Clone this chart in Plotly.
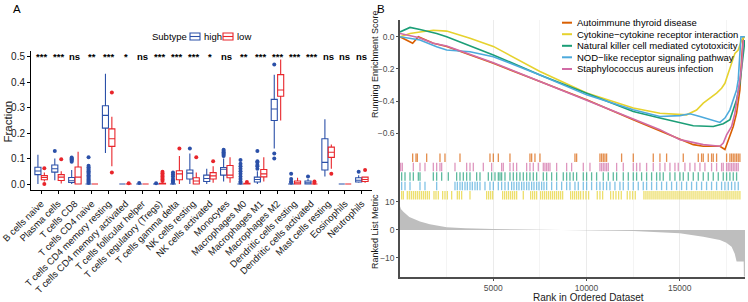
import plotly.graph_objects as go

W, H = 748, 302
FONT = "Liberation Sans"

# ---------------- Panel A data ----------------
cells = ["B cells naive", "Plasma cells", "T cells CD8", "T cells CD4 naive",
         "T cells CD4 memory resting", "T cells CD4 memory activated",
         "T cells follicular helper", "T cells regulatory (Tregs)", "T cells gamma delta",
         "NK cells resting", "NK cells activated", "Monocytes", "Macrophages M0",
         "Macrophages M1", "Macrophages M2", "Dendritic cells resting",
         "Dendritic cells activated", "Mast cells resting", "Eosinophils", "Neutrophils"]
sig = ["***", "***", "ns", "**", "***", "*", "ns", "***", "***", "***", "*", "ns", "**",
       "***", "***", "***", "***", "ns", "ns", "ns"]

high_lo = [0.0, 0.015, 0.0, 0.0, 0.122, 0.0, 0.0, 0.0, 0.0, 0.0, 0.0, 0.01, 0.0, 0.0, 0.14, 0.0, 0.0, 0.03, 0.0, 0.005]
high_q1 = [0.037, 0.047, 0.006, 0.0, 0.22, 0.0, 0.0, 0.0, 0.0, 0.02, 0.01, 0.035, 0.0, 0.008, 0.25, 0.0, 0.0, 0.055, 0.0, 0.008]
high_med = [0.051, 0.06, 0.013, 0.0, 0.27, 0.0, 0.0, 0.0, 0.0, 0.043, 0.022, 0.058, 0.0, 0.018, 0.295, 0.0, 0.005, 0.085, 0.0, 0.015]
high_q3 = [0.066, 0.075, 0.026, 0.0, 0.308, 0.0, 0.0, 0.0, 0.0, 0.055, 0.035, 0.065, 0.0, 0.027, 0.333, 0.0, 0.012, 0.178, 0.0, 0.025]
high_hi = [0.115, 0.10, 0.055, 0.0, 0.434, 0.0, 0.0, 0.0, 0.0, 0.12, 0.06, 0.10, 0.0, 0.05, 0.43, 0.0, 0.02, 0.255, 0.0, 0.035]
high_out = [[], [0.13], [0.088, 0.093, 0.097, 0.100, 0.104],
            [0.004, 0.008, 0.012, 0.016, 0.02, 0.025, 0.03, 0.035, 0.04, 0.045, 0.05, 0.055, 0.06, 0.066, 0.072, 0.105],
            [], [], [0.004], [0.003], [0.005, 0.01, 0.015, 0.02, 0.03, 0.038, 0.045],
            [0.14], [], [0.11, 0.115, 0.12, 0.125, 0.13, 0.135],
            [0.005, 0.01, 0.02, 0.03, 0.04, 0.05, 0.06, 0.07, 0.08, 0.095],
            [0.06, 0.07, 0.075, 0.085, 0.09, 0.13], [0.47, 0.12, 0.10],
            [0.005, 0.01, 0.02, 0.04], [0.03], [], [], [0.048]]

low_lo = [0.01, 0.002, 0.0, 0.0, 0.07, 0.0, 0.0, 0.0, 0.0, 0.0, 0.005, 0.005, 0.0, 0.01, 0.25, 0.0, 0.0, 0.06, 0.0, 0.005]
low_q1 = [0.017, 0.014, 0.0, 0.0, 0.148, 0.0, 0.0, 0.0, 0.017, 0.0, 0.02, 0.025, 0.0, 0.028, 0.345, 0.0, 0.0, 0.105, 0.0, 0.01]
low_med = [0.026, 0.027, 0.027, 0.0, 0.178, 0.0, 0.0, 0.0, 0.04, 0.012, 0.032, 0.035, 0.0, 0.04, 0.37, 0.005, 0.0, 0.125, 0.0, 0.018]
low_q3 = [0.033, 0.037, 0.067, 0.0, 0.217, 0.0, 0.0, 0.003, 0.052, 0.025, 0.045, 0.073, 0.003, 0.057, 0.43, 0.012, 0.0, 0.145, 0.0, 0.027]
low_hi = [0.045, 0.05, 0.127, 0.0, 0.265, 0.0, 0.0, 0.007, 0.11, 0.045, 0.07, 0.105, 0.005, 0.105, 0.49, 0.025, 0.0, 0.155, 0.0, 0.03]
low_out = [[0.062, 0.0], [0.097], [], [], [0.36, 0.045], [0.003], [],
           [0.012, 0.018, 0.024, 0.03, 0.036, 0.042, 0.048], [0.14], [0.105], [0.09], [],
           [0.008], [], [], [], [0.005, 0.01], [0.04], [], [0.055]]

groups = ["high", "low"]
group_colors = {"high": "#2B50A8", "low": "#E8252B"}

# ---------------- Panel B data ----------------
set_names = ["Autoimmune thyroid disease", "Cytokine\u2212cytokine receptor interaction",
             "Natural killer cell mediated cytotoxicity", "NOD\u2212like receptor signaling pathway",
             "Staphylococcus aureus infection"]
set_colors = ["#D95F02", "#E6D22E", "#1B9E77", "#4DAADC", "#D16BA5"]

es_auto_x = [0, 536, 679, 983, 1787, 2502, 5004, 7505, 10007, 12509, 13939, 15011, 15726, 16262, 17155, 17423, 17602, 17870, 18049, 18227, 18316, 18406]
es_auto_y = [0.0, -0.03, -0.04, 0.0, -0.04, -0.06, -0.165, -0.278, -0.392, -0.515, -0.586, -0.639, -0.67, -0.68, -0.68, -0.70, -0.639, -0.557, -0.474, -0.33, -0.144, 0.0]
es_cyto_x = [0, 536, 1072, 1787, 2502, 3753, 5004, 7505, 10007, 12509, 13939, 15011, 15368, 15904, 16262, 16619, 16977, 17245, 17423, 17602, 17781, 17959, 18138, 18316, 18495]
es_cyto_y = [0.0, 0.02, 0.03, 0.04, 0.035, -0.01, -0.06, -0.216, -0.35, -0.443, -0.475, -0.485, -0.485, -0.455, -0.412, -0.381, -0.35, -0.32, -0.289, -0.227, -0.165, -0.103, -0.082, -0.02, 0.0]
es_nk_x = [0, 536, 1072, 1966, 2502, 5004, 7505, 10007, 12509, 13939, 15011, 15726, 16798, 17334, 17691, 17870, 18049, 18227, 18316, 18495]
es_nk_y = [0.03, 0.058, 0.045, 0.02, 0.0, -0.113, -0.237, -0.35, -0.464, -0.505, -0.536, -0.553, -0.557, -0.54, -0.515, -0.454, -0.392, -0.289, -0.186, -0.02]
es_nod_x = [0, 536, 1072, 1966, 2502, 3753, 5004, 7505, 10007, 12509, 13939, 15011, 15547, 16083, 16798, 17155, 17423, 17691, 17870, 18049, 18138, 18227, 18281, 18495]
es_nod_y = [0.0, -0.01, -0.02, -0.062, -0.082, -0.093, -0.124, -0.237, -0.361, -0.454, -0.495, -0.49, -0.478, -0.495, -0.52, -0.532, -0.505, -0.454, -0.392, -0.33, -0.268, -0.124, 0.0, 0.0]
es_staph_x = [0, 983, 1787, 2502, 5004, 7505, 10007, 12509, 13939, 15011, 16262, 17155, 17334, 17513, 17781, 17959, 18138, 18227, 18316, 18406]
es_staph_y = [0.02, -0.005, -0.04, -0.058, -0.161, -0.278, -0.392, -0.511, -0.577, -0.639, -0.67, -0.68, -0.66, -0.61, -0.557, -0.474, -0.35, -0.268, -0.186, -0.02]

hits_auto = [679, 858, 929, 1430, 2144, 2412, 3217, 4825, 5004, 5272, 5897, 6969, 7059, 7237, 7505, 9382, 9471,
             10722, 10811, 10901, 10990, 11079, 11883, 12509, 13581, 13939, 14296, 15190, 15994, 16172, 16262,
             16530, 16708, 16798, 16977, 17513, 17691, 17781, 17870, 17959, 18049, 18138, 18227]
hits_staph = [36, 125, 715, 1072, 1340, 1787, 1966, 2144, 2234, 2949, 3574, 3753, 3931, 4468, 4914, 5450, 5540,
              5897, 6076, 6255, 6791, 6969, 7148, 7416, 7684, 7773, 7863, 7952, 8042, 8399, 8935, 9203, 9829,
              10186, 10722, 10811, 10901, 10990, 11079, 11169, 11616, 11973, 12509, 12688, 12866, 13224, 13581,
              13939, 14207, 14475, 14743, 14921, 15279, 15547, 15815, 16083, 16351, 16708, 16977, 17245, 17334,
              17513, 17602, 17691, 17781, 17870, 17959, 18049, 18138]
hits_nk = [89, 268, 536, 715, 983, 1072, 1787, 1966, 2234, 2591, 3038, 3217, 3395, 3574, 3753, 4110, 4289, 4736,
           4914, 5093, 5272, 5361, 5450, 5629, 5897, 6076, 6255, 6433, 6612, 6791, 6969, 7148, 7327, 7684, 7863,
           8131, 8399, 8756, 8935, 9114, 9292, 9471, 9829, 10007, 10275, 10543, 10901, 11169, 11437, 11616, 11973,
           12241, 12509, 12688, 12956, 13224, 13492, 13760, 13939, 14117, 14475, 14743, 15011, 15190, 15458,
           15726, 15994, 16262, 16530, 16798, 17066, 17334, 17513, 17691, 17870, 18049]
hits_nod = [89, 268, 536, 1072, 1340, 1966, 2949, 3074, 3217, 3342, 3485, 3610, 3753, 3878, 4021, 4146, 4289,
            4557, 4825, 5004, 5272, 5450, 5629, 5808, 5986, 6112, 6255, 6380, 6523, 6648, 6791, 6916, 7059, 7184,
            7327, 7452, 7595, 7720, 7863, 8131, 8399, 8667, 8935, 9114, 9382, 9560, 9829, 10007, 10275, 10543,
            10722, 10901, 11079, 11258, 11526, 11794, 11973, 12241, 12509, 12777, 13045, 13224, 13492, 13760,
            14028, 14296, 14564, 14832, 15100, 15368, 15636, 15904, 16172, 16440, 16708, 16977, 17245, 17423,
            17602, 17781, 17959, 18138]
hits_cyto = [89, 179, 393, 500, 608, 715, 822, 929, 1036, 1144, 1251, 1358, 1465, 1573, 1823, 1930, 2055, 2287,
             2412, 2538, 2770, 3074, 3181, 3306, 3753, 4646, 4753, 4861, 4968, 5504, 5611, 5718, 5826, 5933, 6040,
             6147, 6255, 6612, 7005, 7112, 7219, 7327, 7541, 7648, 7756, 7863, 7970, 8077, 8184, 8292, 8399, 8506,
             8613, 8721, 9149, 9257, 9364, 9471, 9578, 9685, 9829, 9971, 10114, 10579, 10722, 10865, 11294, 11437,
             11580, 11723, 11866, 12187, 12330, 12473, 12616, 13081, 13188, 13295, 13403, 13510, 13617, 13724,
             13831, 13939, 14046, 14153, 14260, 14367, 14475, 14582, 14689, 14796, 14903, 15011, 15118, 15225,
             15332, 15439, 15547, 15654, 15761, 15868, 15976, 16083, 16190, 16297, 16404, 16512, 16619, 16726,
             16833, 16940, 17048, 17155, 17262, 17369, 17476, 17584, 17691, 17798, 17905, 18012, 18120, 18227]

metric_x = [0, 50, 180, 500, 1072, 1600, 2500, 3500, 5000, 7500, 10000, 12500, 15000, 16262, 17155, 17500, 17781, 17950, 18049, 18430, 18440, 18500]
metric_y = [8.5, 7.5, 6.5, 4.6, 3.0, 2.0, 1.0, 0.6, 0.3, 0.1, 0.0, -0.4, -1.2, -2.4, -3.6, -4.6, -6.0, -8.5, -11.3, -11.3, -16.6, -16.6]
n_genes = 18500

es_curves = [(es_auto_x, es_auto_y), (es_cyto_x, es_cyto_y), (es_nk_x, es_nk_y),
             (es_nod_x, es_nod_y), (es_staph_x, es_staph_y)]
hit_sets = [hits_auto, hits_cyto, hits_nk, hits_nod, hits_staph]
rug_rows = [4, 0, 2, 1, 3]   # orange top, pink, green, blue, yellow bottom

# ---------------- build figure ----------------
fig = go.Figure()

def px_x(p):
    return p / W

def px_y(p):
    return 1 - p / H

offsets = {"high": -0.19, "low": 0.19}
stats = {"high": (high_lo, high_q1, high_med, high_q3, high_hi, high_out),
         "low": (low_lo, low_q1, low_med, low_q3, low_hi, low_out)}
for g in groups:
    lo, q1, med, q3, hi, out = stats[g]
    xs = [i + offsets[g] for i in range(len(cells))]
    fig.add_trace(go.Box(x=xs, q1=q1, median=med, q3=q3, lowerfence=lo, upperfence=hi,
                         name=g, width=0.36, whiskerwidth=0, boxpoints=False,
                         line=dict(color=group_colors[g], width=1.1), fillcolor="white",
                         xaxis="x", yaxis="y", showlegend=False))
    ox, oy = [], []
    for i, vals in enumerate(out):
        for v in vals:
            ox.append(i + offsets[g])
            oy.append(v)
    fig.add_trace(go.Scatter(x=ox, y=oy, mode="markers",
                             marker=dict(color=group_colors[g], size=4),
                             xaxis="x", yaxis="y", showlegend=False, hoverinfo="skip"))

# rank metric
fig.add_trace(go.Scatter(x=metric_x, y=metric_y, mode="lines", fill="tozeroy",
                         fillcolor="#BEBEBE", line=dict(width=0, color="#BEBEBE"),
                         xaxis="x4", yaxis="y4", showlegend=False, hoverinfo="skip"))

# rug
for hits, row, col in zip(hit_sets, rug_rows, set_colors):
    rx, ry = [], []
    for h in hits:
        rx += [h, h, None]
        ry += [row + 0.05, row + 0.95, None]
    fig.add_trace(go.Scatter(x=rx, y=ry, mode="lines", line=dict(color=col, width=1.3),
                             opacity=0.7, xaxis="x3", yaxis="y3", showlegend=False,
                             hoverinfo="skip"))

# running enrichment curves
for (cx, cy), name, col in zip(es_curves, set_names, set_colors):
    fig.add_trace(go.Scatter(x=cx, y=cy, mode="lines", name=name,
                             line=dict(color=col, width=1.6),
                             xaxis="x2", yaxis="y2", showlegend=False))

axis_common = dict(showline=True, linecolor="black", linewidth=1, ticks="outside",
                   ticklen=3, tickcolor="black", zeroline=False, showgrid=False,
                   automargin=False)

bx = [px_x(400), px_x(745)]
grid_b = dict(showgrid=True, gridcolor="#EBEBEB", gridwidth=1,
              minor=dict(showgrid=True, gridcolor="#F4F4F4", dtick=2500, tick0=0),
              range=[0, n_genes], zeroline=False, automargin=False)
grey_axis = dict(showline=True, linecolor="#4D4D4D", linewidth=1.5, ticks="outside",
                 ticklen=2, tickcolor="#4D4D4D", showgrid=False, zeroline=False,
                 tickfont=dict(size=8.5, color="#4D4D4D"), automargin=False)

fig.update_layout(
    width=W, height=H, margin=dict(l=0, r=0, t=0, b=0),
    paper_bgcolor="white", plot_bgcolor="white",
    font=dict(family=FONT, color="black"),
    showlegend=False,
    xaxis=dict(domain=[px_x(31), px_x(372)], range=[-0.6, 19.6], anchor="y",
               tickmode="array", tickvals=list(range(len(cells))), ticktext=cells,
               tickangle=-45, tickfont=dict(size=9.5, color="#1a1a1a"), **axis_common),
    yaxis=dict(domain=[px_y(190.4), px_y(50.5)], range=[-0.025, 0.525], anchor="x",
               tickmode="array", tickvals=[0, 0.1, 0.2, 0.3, 0.4, 0.5], tickformat=".1f",
               tickfont=dict(size=10, color="#1a1a1a"), **axis_common),
    xaxis2=dict(domain=bx, anchor="y2", showticklabels=False, ticks="",
                showline=False, tick0=0, dtick=5000, **grid_b),
    yaxis2=dict(domain=[px_y(153), px_y(20)], range=[-0.722, 0.104], anchor="x2",
                tickmode="array", tickvals=[-0.6, -0.4, -0.2, 0.0],
                ticktext=["\u22120.6", "\u22120.4", "\u22120.2", "0.0"],
                **grey_axis),
    xaxis3=dict(domain=bx, anchor="y3", showticklabels=False, ticks="",
                showline=False, tick0=0, dtick=5000, **grid_b),
    yaxis3=dict(domain=[px_y(200), px_y(153)], range=[0, 5], anchor="x3",
                showticklabels=False, ticks="", showline=True, linecolor="#4D4D4D",
                linewidth=1.5, showgrid=False, zeroline=False, automargin=False),
    xaxis4=dict(domain=bx, anchor="y4", showticklabels=True, ticks="outside", ticklen=2,
                tickcolor="#4D4D4D", tickmode="array", tickvals=[5000, 10000, 15000],
                ticktext=["5000", "10000", "15000"],
                tickfont=dict(size=8.5, color="#4D4D4D"), showline=True,
                linecolor="#4D4D4D", linewidth=1.5, **grid_b),
    yaxis4=dict(domain=[px_y(277), px_y(200)], range=[-16.8, 10.7], anchor="x4",
                tickmode="array", tickvals=[-10, 0, 10], ticktext=["\u221210", "0", "10"],
                **grey_axis),
)

annotations = []
shapes = []

def note(x, y, text, size, xanchor="center", yanchor="middle", angle=0, color="black"):
    annotations.append(dict(x=px_x(x), y=px_y(y), xref="paper", yref="paper", text=text,
                            xanchor=xanchor, yanchor=yanchor, textangle=angle,
                            showarrow=False, font=dict(size=size, color=color)))

for i, s in enumerate(sig):
    annotations.append(dict(x=i, y=0.5, xref="x", yref="y", text="<b>" + s + "</b>",
                            showarrow=False, font=dict(size=9.5, color="black"),
                            xanchor="center", yanchor="middle"))
note(17, 9, "A", 11.5)
note(381, 9, "B", 11.5)
note(7.5, 122, "Fraction", 11.5, angle=-90, color="#1a1a1a")
note(375, 64, "Running Enrichment Score", 9, angle=-90, color="#1a1a1a")
note(375, 232, "Ranked List Metric", 9, angle=-90, color="#1a1a1a")
note(588, 297.5, "Rank in Ordered Dataset", 10, color="#1a1a1a")

# legend for panel A (Subtype)
note(189, 36.5, "Subtype", 9.5, xanchor="right")
leg_a = [("high", 190, 202), ("low", 223, 235)]
for g, x0, tx in leg_a:
    c = group_colors[g]
    shapes.append(dict(type="rect", xref="paper", yref="paper", x0=px_x(x0), x1=px_x(x0 + 10),
                       y0=px_y(40), y1=px_y(33), line=dict(color=c, width=1.1),
                       fillcolor="white"))
    shapes.append(dict(type="line", xref="paper", yref="paper", x0=px_x(x0), x1=px_x(x0 + 10),
                       y0=px_y(36.5), y1=px_y(36.5), line=dict(color=c, width=1.1)))
    note(tx, 36.5, g, 9.5, xanchor="left")

# legend for panel B
leg_rows = [22.7, 34.2, 45.8, 57.3, 69.0]
for name, col, yy in zip(set_names, set_colors, leg_rows):
    shapes.append(dict(type="line", xref="paper", yref="paper", x0=px_x(562), x1=px_x(572),
                       y0=px_y(yy), y1=px_y(yy), line=dict(color=col, width=2)))
    note(575, yy, name, 9.5, xanchor="left")

fig.update_layout(annotations=annotations, shapes=shapes)

fig.write_html("out.html", config={"displayModeBar": False},
               post_script="document.body.style.margin='0px';")
